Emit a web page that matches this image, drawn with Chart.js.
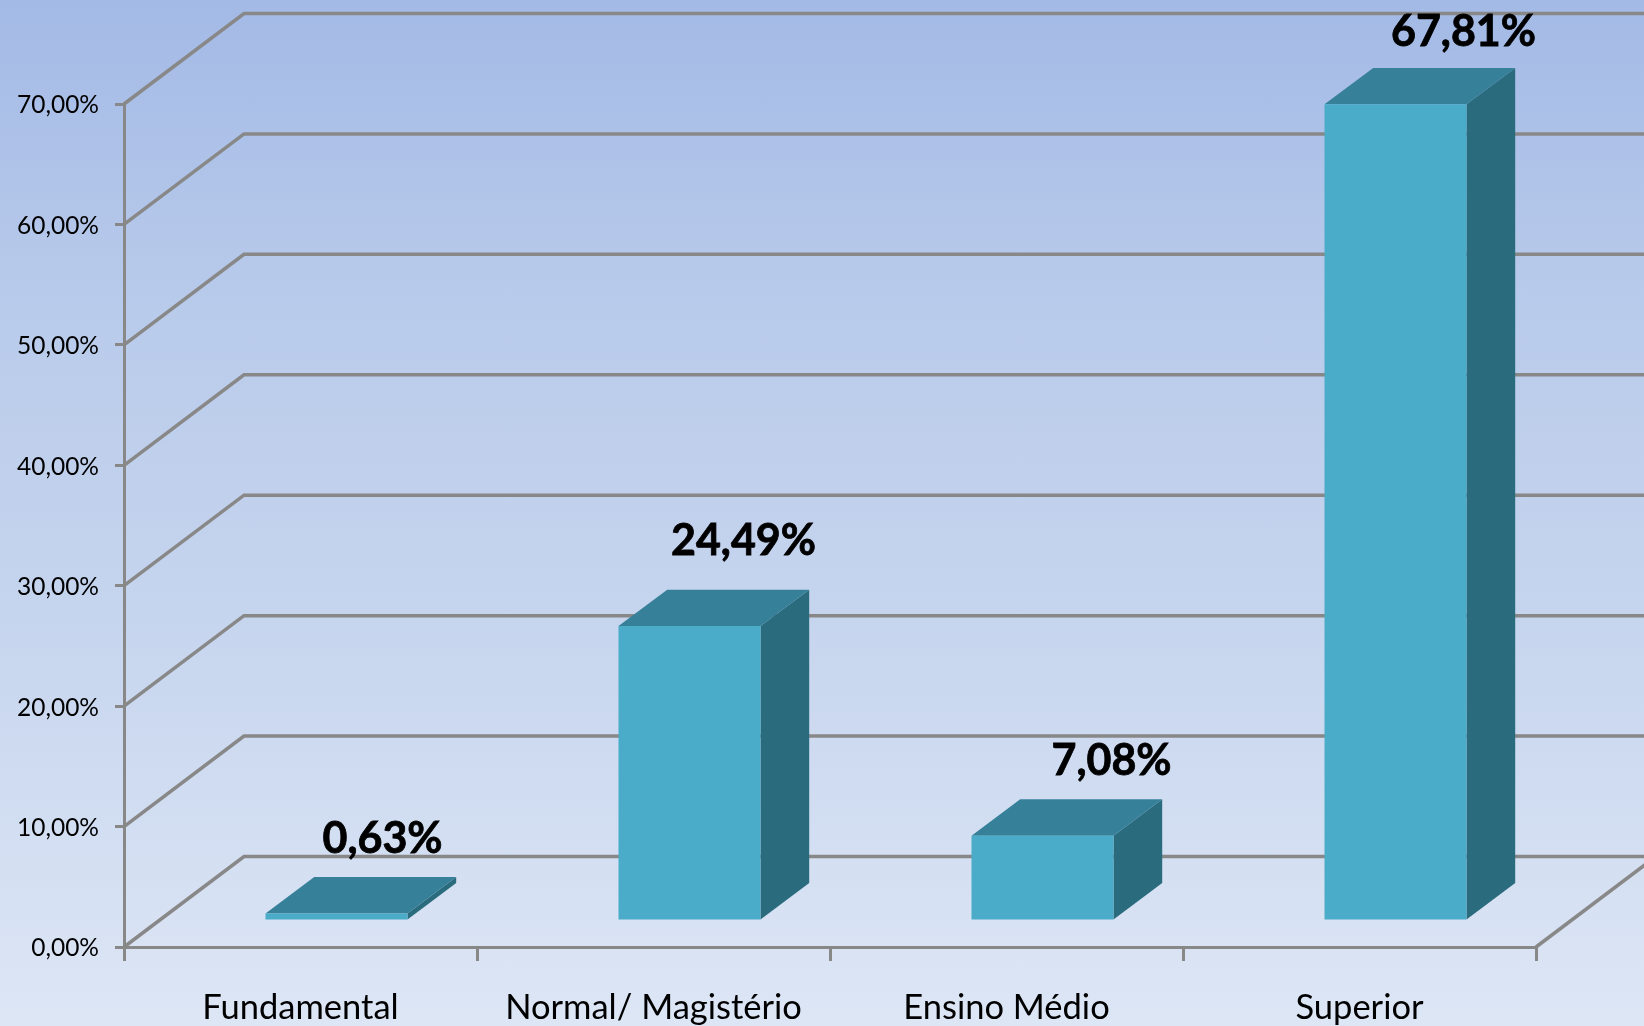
<!DOCTYPE html>
<html>
<head>
<meta charset="utf-8">
<title>Formação</title>
<script src="https://cdn.jsdelivr.net/npm/chart.js@4/dist/chart.umd.min.js"></script>
<style>
    html, body { margin: 0; padding: 0; width: 1644px; height: 1026px; overflow: hidden; }
    body { background: linear-gradient(to bottom, #a3bae6 0%, #b9cbeb 30%, #c6d5ee 60%, #dde6f5 100%); }
    canvas { display: block; }
</style>
</head>
<body>
<canvas id="chart" width="1644" height="1026"></canvas>
<script>
const categories = ['Fundamental', 'Normal/ Magistério', 'Ensino Médio', 'Superior'];
const values = [0.63, 24.49, 7.08, 67.81];
const valueLabels = ['0,63%', '24,49%', '7,08%', '67,81%'];
const yTickLabels = ['0,00%', '10,00%', '20,00%', '30,00%', '40,00%', '50,00%', '60,00%', '70,00%'];

const fontName = 'Lato, "Open Sans", sans-serif';
const gridColor = '#888888';
const frontColor = '#4aacc8';
const topColor = '#37809a';
const sideColor = '#2a6c7e';

// wall depth and bar depth of the fake 3D
const wallDx = 120, wallDy = 90.5;
const barDx = 48.7, barDy = 36.4;
const barShiftX = 36, barShiftY = -26;
// the labels do not sit at a constant place over the bars
const labelNudge = [[46, -74], [54, -85], [69, -75], [68, -72]];

const wall3d = {
    id: 'wall3d',
    beforeDatasetsDraw(chart) {
        const { ctx, scales: { x, y } } = chart;
        ctx.save();
        ctx.strokeStyle = gridColor;
        ctx.lineWidth = 3.5;
        y.ticks.forEach(t => {
            const py = y.getPixelForValue(t.value);
            ctx.beginPath();
            ctx.moveTo(x.left, py);
            ctx.lineTo(x.left + wallDx, py - wallDy);
            ctx.lineTo(chart.width, py - wallDy);
            ctx.stroke();
        });
        // right end of the floor
        ctx.beginPath();
        ctx.moveTo(x.right, y.bottom);
        ctx.lineTo(x.right + wallDx, y.bottom - wallDy);
        ctx.stroke();
        ctx.restore();
    },
    beforeDatasetDraw(chart, args) {
        const ctx = chart.ctx;
        ctx.save();
        ctx.translate(barShiftX, barShiftY);
        chart.getDatasetMeta(args.index).data.forEach(bar => {
            const l = bar.x - bar.width / 2, r = bar.x + bar.width / 2;
            ctx.fillStyle = sideColor;
            ctx.beginPath();
            ctx.moveTo(r, bar.y);
            ctx.lineTo(r + barDx, bar.y - barDy);
            ctx.lineTo(r + barDx, bar.base - barDy);
            ctx.lineTo(r, bar.base);
            ctx.closePath();
            ctx.fill();
            ctx.fillStyle = topColor;
            ctx.beginPath();
            ctx.moveTo(l, bar.y);
            ctx.lineTo(l + barDx, bar.y - barDy);
            ctx.lineTo(r + barDx, bar.y - barDy);
            ctx.lineTo(r, bar.y);
            ctx.closePath();
            ctx.fill();
        });
    },
    afterDatasetDraw(chart, args) {
        const ctx = chart.ctx;
        ctx.restore();
        ctx.save();
        ctx.fillStyle = '#000';
        ctx.strokeStyle = '#000';
        ctx.lineWidth = 0.8;
        ctx.font = 'bold 43px ' + fontName;
        ctx.textAlign = 'center';
        ctx.textBaseline = 'middle';
        chart.getDatasetMeta(args.index).data.forEach((bar, i) => {
            const px = bar.x + barShiftX + labelNudge[i][0];
            const py = bar.y + barShiftY + labelNudge[i][1];
            ctx.fillText(valueLabels[i], px, py);
            ctx.strokeText(valueLabels[i], px, py);
        });
        ctx.restore();
    }
};

new Chart(document.getElementById('chart'), {
    type: 'bar',
    data: {
        labels: categories,
        datasets: [{
            data: values,
            backgroundColor: frontColor,
            borderWidth: 0,
            categoryPercentage: 1,
            barPercentage: 0.4023,
            clip: false
        }]
    },
    options: {
        responsive: false,
        animation: false,
        events: [],
        layout: { padding: { top: 104, right: 108 } },
        plugins: {
            legend: { display: false },
            tooltip: { enabled: false }
        },
        scales: {
            x: {
                afterFit: s => { s.height = 79; },
                border: { color: gridColor, width: 3 },
                grid: { color: gridColor, lineWidth: 3, drawOnChartArea: false, tickLength: 14, offset: true },
                ticks: { color: '#000', padding: 26, maxRotation: 0, font: { family: fontName, size: 34.5 } }
            },
            y: {
                min: 0,
                max: 70,
                afterFit: s => { s.width = 124; },
                border: { color: gridColor, width: 3 },
                grid: { color: gridColor, lineWidth: 3, drawOnChartArea: false, tickLength: 9 },
                ticks: {
                    stepSize: 10,
                    color: '#000',
                    padding: 16,
                    labelOffset: 1.5,
                    font: { family: fontName, size: 24.5 },
                    callback: (v, i) => yTickLabels[i]
                }
            }
        }
    },
    plugins: [wall3d]
});
</script>
</body>
</html>
